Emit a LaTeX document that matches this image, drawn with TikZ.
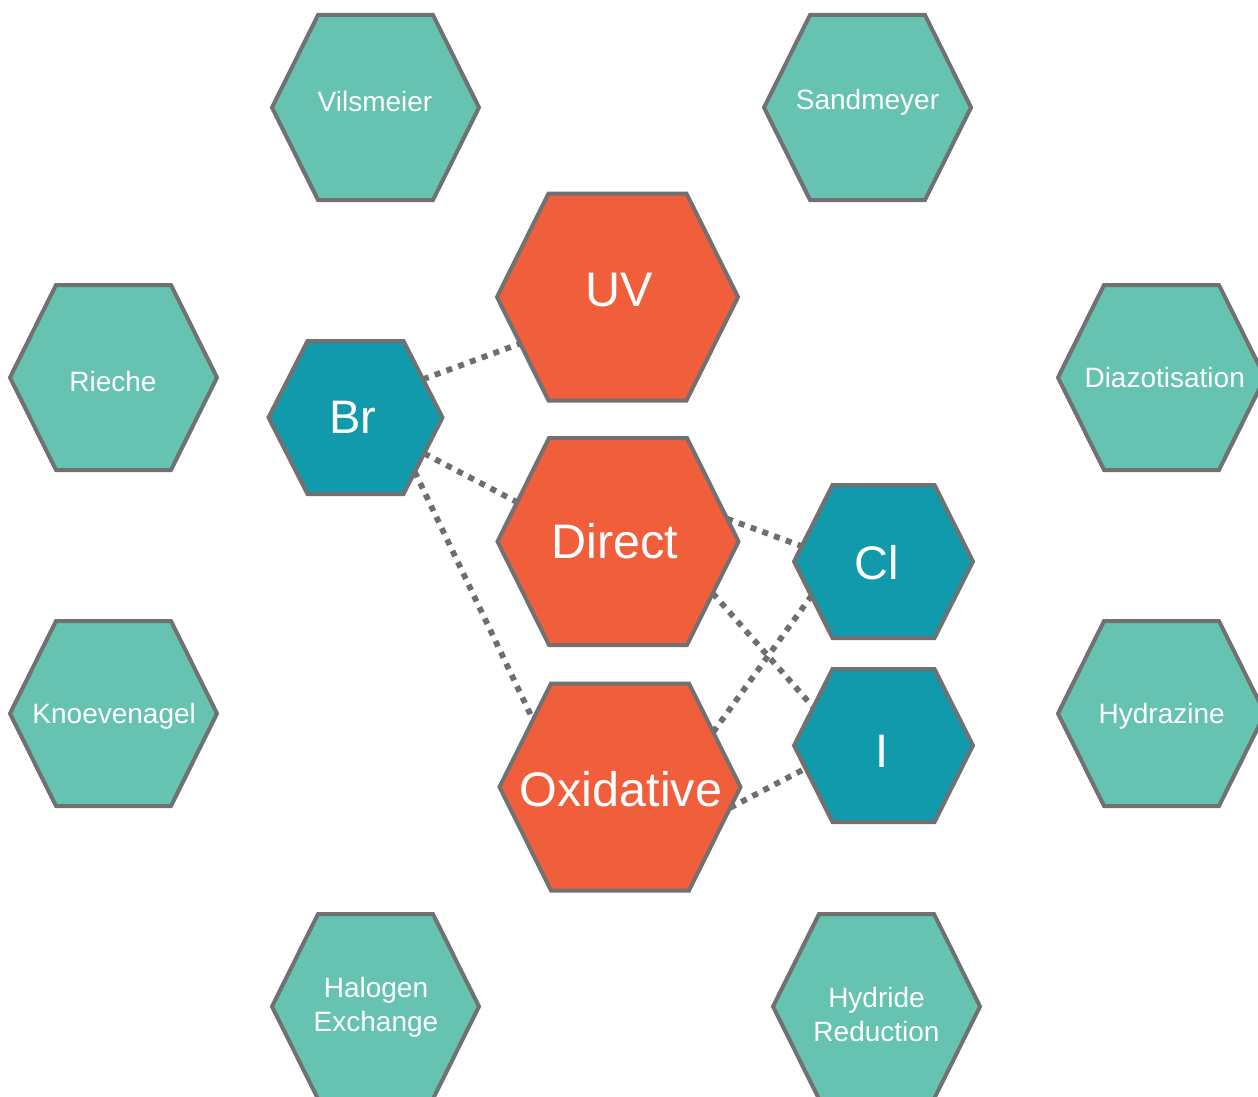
\documentclass[tikz,border=0pt]{standalone}
\usepackage{fontspec}
\setmainfont{Liberation Sans}
\usetikzlibrary{calc}
\pgfdeclarelayer{bg}
\pgfsetlayers{bg,main}
\definecolor{hgreen}{HTML}{66C2B1}
\definecolor{horange}{HTML}{F15E3C}
\definecolor{hblue}{HTML}{109AAB}
\definecolor{hborder}{HTML}{717171}
\definecolor{hline}{HTML}{6E6E6E}
\tikzset{
  hexborder/.style={draw=hborder, line width=4pt, line join=miter},
  conn/.style={draw=hline, line width=5.8pt, dash pattern=on 6pt off 6.5pt},
  gtext/.style={text=white, inner sep=0pt, font=\fontsize{28}{34}\selectfont},
  gtexttwo/.style={gtext, align=center},
  otext/.style={text=white, inner sep=0pt, font=\fontsize{48.5}{56}\selectfont},
  btext/.style={text=white, inner sep=0pt, font=\fontsize{47}{56}\selectfont},
}
\newcommand{\hexa}[7]{%
  \coordinate (#1-c) at (#2,#3);
  \coordinate (#1-e) at ($(#1-c)+(#4,0)$);
  \coordinate (#1-ne) at ($(#1-c)+(#5,-#6)$);
  \coordinate (#1-nw) at ($(#1-c)+(-#5,-#6)$);
  \coordinate (#1-w) at ($(#1-c)+(-#4,0)$);
  \coordinate (#1-sw) at ($(#1-c)+(-#5,#6)$);
  \coordinate (#1-se) at ($(#1-c)+(#5,#6)$);
  \filldraw[hexborder, fill=#7] (#1-e) -- (#1-ne) -- (#1-nw) -- (#1-w) -- (#1-sw) -- (#1-se) -- cycle;
}
\begin{document}
\begin{tikzpicture}[x=1pt,y=-1pt]
\useasboundingbox (0,0) rectangle (1258,1097);
\clip (0,0) rectangle (1258,1097);
% outer green hexagons
\hexa{Vilsmeier}{375.5}{107.5}{103.5}{57.5}{92.5}{hgreen}
\hexa{Sandmeyer}{867.5}{107.5}{103.5}{57.5}{92.5}{hgreen}
\hexa{Rieche}{113.5}{377.5}{103.5}{57.5}{92.5}{hgreen}
\hexa{Diazotisation}{1161.5}{377.5}{103.5}{57.5}{92.5}{hgreen}
\hexa{Knoevenagel}{113.5}{713.5}{103.5}{57.5}{92.5}{hgreen}
\hexa{Hydrazine}{1161.5}{713.5}{103.5}{57.5}{92.5}{hgreen}
\hexa{Halogen}{375.5}{1006.5}{103.5}{57.5}{92.5}{hgreen}
\hexa{Hydride}{876.5}{1006.5}{103.5}{57.5}{92.5}{hgreen}
% orange methods
\hexa{UV}{617.5}{297}{120.5}{69}{103.5}{horange}
\hexa{Direct}{618}{541.5}{120.5}{69}{103.5}{horange}
\hexa{Oxidative}{620}{787}{120.5}{69}{103.5}{horange}
% blue halogens
\hexa{Br}{355.5}{417.5}{87}{48}{76.5}{hblue}
\hexa{Cl}{883.5}{561.5}{89.5}{51}{76.5}{hblue}
\hexa{I}{883.5}{745.5}{89.5}{51}{76.5}{hblue}
% labels
\node[gtext, anchor=base] (Vilsmeier) at (375,112) {Vilsmeier};
\node[gtext, anchor=base] (Sandmeyer) at (867.5,110) {Sandmeyer};
\node[gtext, anchor=base] (Rieche) at (113,391) {Rieche};
\node[gtext, anchor=base] (Diazotisation) at (1164.7,387) {Diazotisation};
\node[gtext, anchor=base] (Knoevenagel) at (114.2,723) {Knoevenagel};
\node[gtext, anchor=base] (Hydrazine) at (1161.7,723) {Hydrazine};
\node[gtexttwo] (Halogen) at (376,1007.5) {Halogen\\Exchange};
\node[gtexttwo] (Hydride) at (876.5,1014.5) {Hydride\\Reduction};
\node[otext, anchor=base] (UV) at (618.7,306) {UV};
\node[otext, anchor=base] (Direct) at (615,558.5) {Direct};
\node[otext, anchor=base] (Oxidative) at (621,806) {Oxidative};
\node[btext, anchor=base] (Br) at (352.8,433) {Br};
\node[btext, anchor=base] (Cl) at (877,579) {Cl};
\node[btext, anchor=base] (I) at (882,767) {I};
% connectors
\begin{pgfonlayer}{bg}
\draw[conn] ($(Br-ne)!0.5!(Br-e)$) -- ($(UV-w)!0.45!(UV-sw)$);
\draw[conn] ($(Br-e)!0.47!(Br-se)$) -- ($(Direct-nw)!0.62!(Direct-w)$);
\draw[conn] ($(Br-e)!0.71!(Br-se)$) -- ($(Oxidative-nw)!0.35!(Oxidative-w)$);
\draw[conn] ($(Direct-ne)!0.78!(Direct-e)$) -- ($(Cl-nw)!0.8!(Cl-w)$);
\draw[conn] ($(Direct-e)!0.5!(Direct-se)$) -- ($(I-nw)!0.5!(I-w)$);
\draw[conn] ($(Oxidative-ne)!0.47!(Oxidative-e)$) -- ($(Cl-w)!0.45!(Cl-sw)$);
\draw[conn] ($(Oxidative-e)!0.2!(Oxidative-se)$) -- ($(I-w)!0.3!(I-sw)$);
\end{pgfonlayer}
\end{tikzpicture}
\end{document}
